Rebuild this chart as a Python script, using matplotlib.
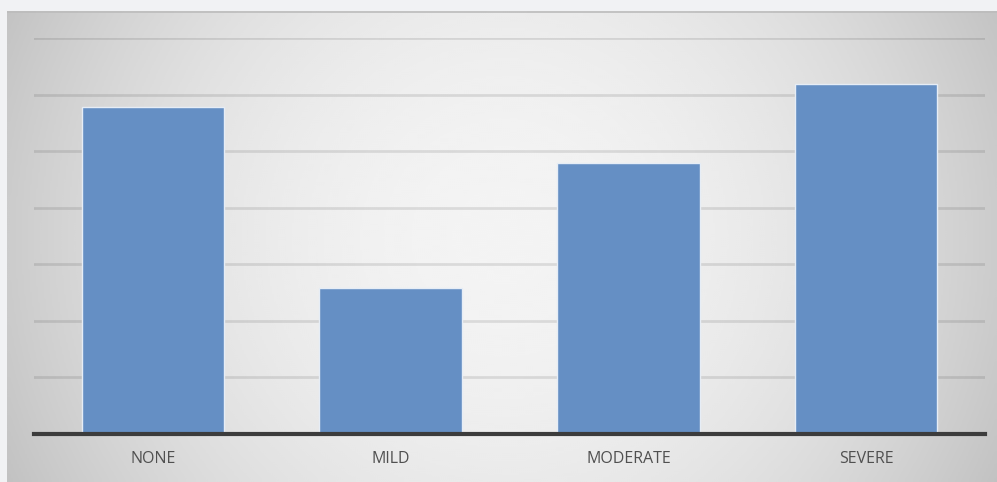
import numpy as np
import matplotlib
matplotlib.use("Agg")
import matplotlib.pyplot as plt

categories = ["NONE", "MILD", "MODERATE", "SEVERE"]
values = [5.78, 2.58, 4.79, 6.19]
grid_levels = [1, 2, 3, 4, 5, 6, 7]

W, H = 997, 482
fig = plt.figure(figsize=(W / 100, H / 100), dpi=100, facecolor="#f1f2f4")

# panel with a soft radial gradient (circular in pixel space)
px0, py0 = 7, 11
pw, ph = W - px0, H - py0
bg = fig.add_axes([px0 / W, 0, pw / W, ph / H])
ys, xs = np.mgrid[0:ph:2, 0:pw:2]
d = np.hypot(xs - pw * 0.5, ys - ph * 0.48) / 500.0
shade = 0.955 - 0.16 * d ** 2
bg.imshow(shade, cmap="gray", vmin=0, vmax=1, aspect="auto",
          extent=[0, 1, 0, 1], interpolation="bicubic")
bg.plot([0, 1], [0.997, 0.997], color="#bcbcbc", lw=1.2, transform=bg.transAxes)
bg.set_xlim(0, 1)
bg.set_ylim(0, 1)
bg.axis("off")

ax = fig.add_axes([34 / W, (H - 434) / H, 951 / W, 396 / H])
ax.patch.set_alpha(0)
x = np.arange(len(categories))
for g in grid_levels:
    ax.axhline(g, color="black", alpha=0.10, lw=2, zorder=1)
ax.bar(x, values, width=0.6, color="#658fc4", edgecolor="#e6edf6",
       linewidth=1.0, zorder=2)
ax.axhline(0, color="#3c3c3c", lw=3, zorder=3, clip_on=False)

ax.set_xlim(-0.5, 3.5)
ax.set_ylim(0, 7)
ax.set_xticks(x)
ax.set_xticklabels(categories, fontsize=11.5, color="#505050",
                   family=["Open Sans", "DejaVu Sans"])
ax.tick_params(axis="x", length=0, pad=12)
ax.set_yticks([])
for s in ax.spines.values():
    s.set_visible(False)

fig.savefig("out.png", dpi=100, facecolor=fig.get_facecolor())
